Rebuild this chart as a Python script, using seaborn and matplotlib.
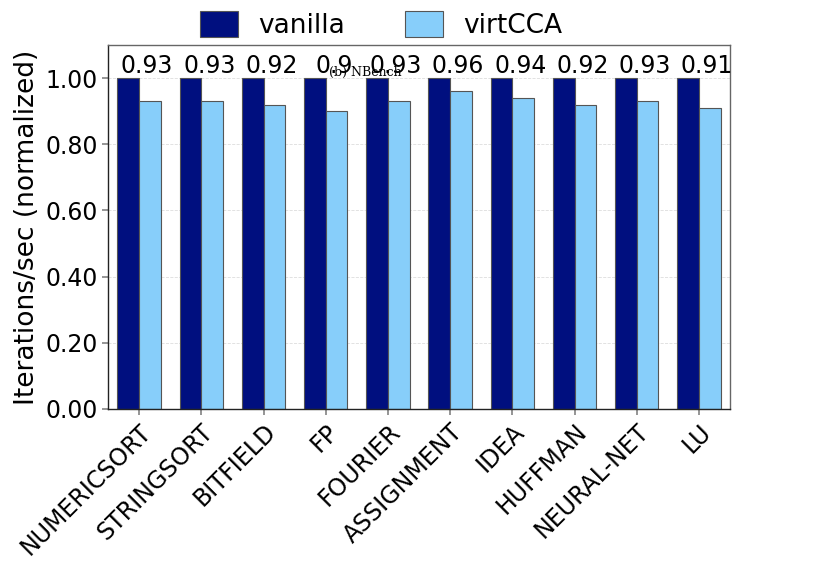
import matplotlib
matplotlib.use("Agg")
import matplotlib.pyplot as plt
import seaborn as sns
import pandas as pd
import numpy as np

benchmarks = ["NUMERICSORT", "STRINGSORT", "BITFIELD", "FP", "FOURIER",
              "ASSIGNMENT", "IDEA", "HUFFMAN", "NEURAL-NET", "LU"]
vanilla = [1.0, 1.0, 1.0, 1.0, 1.0, 1.0, 1.0, 1.0, 1.0, 1.0]
virtcca = [0.93, 0.93, 0.92, 0.90, 0.93, 0.96, 0.94, 0.92, 0.93, 0.91]
labels = ["0.93", "0.93", "0.92", "0.9", "0.93", "0.96", "0.94", "0.92", "0.93", "0.91"]
series = ["vanilla", "virtCCA"]
colors = ["#000F7F", "#87CEFA"]

df = pd.DataFrame({
    "bench": benchmarks * 2,
    "value": vanilla + virtcca,
    "system": [series[0]] * len(benchmarks) + [series[1]] * len(benchmarks),
})

sns.set_theme(style="white")
plt.rcParams['font.family'] = ['DejaVu Sans']
plt.rcParams['text.color'] = 'black'
plt.rcParams['axes.labelcolor'] = 'black'
plt.rcParams['xtick.color'] = 'black'
plt.rcParams['ytick.color'] = 'black'

fig = plt.figure(figsize=(8.3, 5.87), dpi=100)
ax = fig.add_axes([108 / 830, 1 - 409 / 587, (730 - 108) / 830, (409 - 45) / 587])

sns.barplot(data=df, x="bench", y="value", hue="system", palette=colors,
            width=0.7, gap=0, edgecolor="#555555", linewidth=0.8,
            saturation=1, ax=ax, legend=True)

ax.set_ylim(0, 1.1)
ax.set_xlim(-0.5, 9.5)
ax.set_yticks([0, 0.2, 0.4, 0.6, 0.8, 1.0])
ax.set_yticklabels([f"{v:.2f}" for v in [0, 0.2, 0.4, 0.6, 0.8, 1.0]], fontsize=17)
ax.set_xticks(range(len(benchmarks)))
ax.set_xticklabels(benchmarks, rotation=45, ha="right", rotation_mode="anchor", fontsize=17)
ax.set_xlabel("")
ax.set_ylabel("Iterations/sec (normalized)", fontsize=19, labelpad=4)
ax.yaxis.grid(True, linestyle="--", color="#dddddd", linewidth=0.6)
ax.set_axisbelow(True)
for s in ax.spines.values():
    s.set_visible(True)
    s.set_color("#666666")
    s.set_linewidth(1.0)
ax.spines["left"].set_color("#222222")
ax.spines["bottom"].set_color("#222222")
ax.tick_params(axis="x", which="major", direction="out", length=4, color="#888888", bottom=True)
ax.tick_params(axis="y", which="major", direction="out", length=4, color="#888888", left=True)

for i, lab in enumerate(labels):
    ax.text(i + 0.13, 1.0, lab, ha="center", va="bottom", fontsize=17)

handles, lbls = ax.get_legend_handles_labels()
ax.get_legend().remove()
fig.legend(handles, lbls, loc="upper center", bbox_to_anchor=(0.459, 1.022), ncol=2,
           frameon=False, fontsize=19, handlelength=1.44, handleheight=1.14,
           columnspacing=2.3, handletextpad=0.76)

fig.text(365 / 830, 1 - 72 / 587, "(b) NBench", family="DejaVu Serif", fontsize=9,
         ha="center", va="center")

fig.savefig("out.png", dpi=100)
